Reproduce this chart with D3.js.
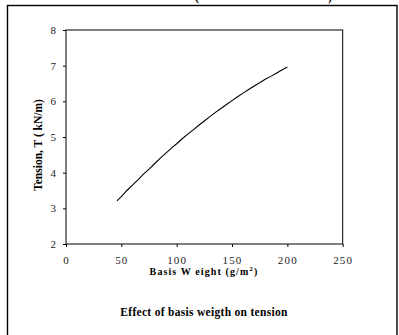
<!DOCTYPE html>
<html>
<head>
<meta charset="utf-8">
<script src="https://cdn.jsdelivr.net/npm/d3@7"></script>
<style>
  body { margin: 0; background: #fff; }
  svg { display: block; }
  text { font-family: "Liberation Serif", "Times New Roman", serif; }
</style>
</head>
<body>
<div id="chart"></div>
<script>
// basis weight (g/m2) and tension (kN/m)
var basisWeight = [46, 50, 55, 60, 65, 70, 75, 80, 85, 90, 95, 100, 105, 110, 115, 120,
                   125, 130, 135, 140, 145, 150, 155, 160, 165, 170, 175, 180, 185, 190, 195, 200];
var tension = [3.21, 3.33, 3.50, 3.65, 3.80, 3.96, 4.10, 4.25, 4.40, 4.54, 4.68, 4.81, 4.95, 5.08, 5.20, 5.33,
               5.45, 5.57, 5.69, 5.80, 5.91, 6.02, 6.13, 6.23, 6.33, 6.43, 6.52, 6.62, 6.70, 6.79, 6.88, 6.96];
var xTicks = [0, 50, 100, 150, 200, 250];
var yTicks = [2, 3, 4, 5, 6, 7, 8];

var W = 399, H = 335;
var svg = d3.select("#chart").append("svg")
    .attr("width", W).attr("height", H);

// outer chart frame (bottom runs off the picture)
svg.append("rect")
    .attr("x", 7.5).attr("y", 5.5)
    .attr("width", 389.5).attr("height", 340)
    .attr("fill", "none").attr("stroke", "#000").attr("stroke-width", 1.4);

// remains of a cut-off heading above the frame
svg.append("text").attr("x", 197).attr("y", 1)
    .attr("font-size", 12).attr("font-weight", "bold").attr("text-anchor", "middle").text("(");
svg.append("text").attr("x", 330).attr("y", 1)
    .attr("font-size", 12).attr("font-weight", "bold").attr("text-anchor", "middle").text(")");

var x = d3.scaleLinear().domain([0, 250]).range([66, 342.7]);
var y = d3.scaleLinear().domain([2, 8]).range([244, 30]);

// plot area box
svg.append("rect")
    .attr("x", x(0)).attr("y", y(8))
    .attr("width", x(250) - x(0)).attr("height", y(2) - y(8))
    .attr("fill", "none").attr("stroke", "#000").attr("stroke-width", 1);

var xAxis = svg.append("g")
    .attr("transform", "translate(0," + y(2) + ")")
    .call(d3.axisBottom(x).tickValues(xTicks).tickSize(3).tickPadding(9).tickFormat(d3.format("d")));
var yAxis = svg.append("g")
    .attr("transform", "translate(" + x(0) + ",0)")
    .call(d3.axisLeft(y).tickValues(yTicks).tickSize(3).tickPadding(7).tickFormat(d3.format("d")));

[xAxis, yAxis].forEach(function(g){
	g.select(".domain").remove();
	g.selectAll(".tick line").attr("stroke", "#000");
	g.selectAll(".tick text")
	    .attr("font-family", "Liberation Serif")
	    .attr("font-size", 11)
	    .attr("fill", "#222");
});
xAxis.selectAll(".tick text").attr("letter-spacing", 1.2);

// the curve
var pts = basisWeight.map(function(b, i){ return [b, tension[i]]; });
svg.append("path")
    .datum(pts)
    .attr("fill", "none")
    .attr("stroke", "#000")
    .attr("stroke-width", 1.1)
    .attr("d", d3.line().x(function(d){ return x(d[0]); }).y(function(d){ return y(d[1]); }));

// axis titles
svg.append("text")
    .attr("transform", "translate(42,145) rotate(-90)")
    .attr("text-anchor", "middle")
    .attr("font-size", 11.5).attr("font-weight", "bold")
    .text("Tension, T ( kN/m)");

var xt = svg.append("text")
    .attr("x", 204).attr("y", 275)
    .attr("text-anchor", "middle")
    .attr("font-size", 10).attr("font-weight", "bold")
    .attr("letter-spacing", 1.1);
xt.append("tspan").text("Basis W eight (g/m");
xt.append("tspan").attr("font-size", 7).attr("dy", -4).text("2");
xt.append("tspan").attr("dy", 4).text(")");

svg.append("text")
    .attr("x", 204).attr("y", 316)
    .attr("text-anchor", "middle")
    .attr("font-size", 11.5).attr("font-weight", "bold")
    .attr("letter-spacing", 0.3)
    .text("Effect of basis weigth on tension");
</script>
</body>
</html>
